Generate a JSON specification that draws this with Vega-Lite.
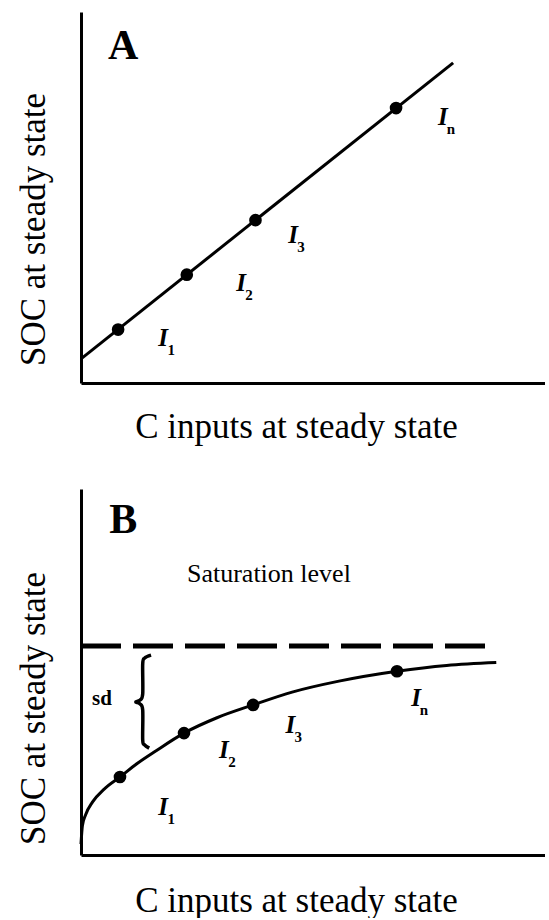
{
  "$schema": "https://vega.github.io/schema/vega-lite/v6.json",
  "background": "white",
  "padding": {"left": 15, "top": 12, "right": 0, "bottom": 0},
  "spacing": 106,
  "bounds": "flush",
  "config": {
    "view": {"stroke": null},
    "axis": {"domainColor": "black", "domainWidth": 3, "ticks": false, "labels": false, "grid": false,
      "titleFont": "Liberation Serif", "titleFontSize": 35, "titleFontWeight": "normal", "titleColor": "black"}
  },
  "datasets": {
    "lineA": [{"x": 0, "y": 6.5}, {"x": 80.2, "y": 86.3}],
    "dotsA": [{"x": 8.0, "y": 14.4}, {"x": 22.8, "y": 29.2}, {"x": 37.6, "y": 43.9}, {"x": 67.9, "y": 74.1}],
    "labelsA": [{"x": 17.7, "y": 12.1, "sub": "1"}, {"x": 34.5, "y": 27.0, "sub": "2"}, {"x": 45.7, "y": 39.9, "sub": "3"}, {"x": 78.0, "y": 71.7, "sub": "n"}],
    "tagA": [{"x": 9.1, "y": 87.3, "t": "A"}],
    "curveB": [
      {"x": 0, "y": 3}, {"x": 0.3, "y": 8}, {"x": 1, "y": 11}, {"x": 2.5, "y": 14.5}, {"x": 5, "y": 18},
      {"x": 8.4, "y": 21.3}, {"x": 12.1, "y": 25}, {"x": 16.2, "y": 28.5}, {"x": 22.2, "y": 33.3}, {"x": 29.3, "y": 37.5},
      {"x": 37.1, "y": 41}, {"x": 45.5, "y": 44.5}, {"x": 55.6, "y": 47.5}, {"x": 68.1, "y": 50.2}, {"x": 78.8, "y": 51.8}, {"x": 89.5, "y": 52.6}
    ],
    "dotsB": [{"x": 8.4, "y": 21.3}, {"x": 22.2, "y": 33.3}, {"x": 37.1, "y": 41}, {"x": 68.1, "y": 50.2}],
    "satB": [{"x": 0, "y": 57.1}, {"x": 88.7, "y": 57.1}],
    "braceB": [
      {"i": 1, "x": 15.1, "y": 54.6}, {"i": 2, "x": 13.7, "y": 53.8}, {"i": 3, "x": 13.3, "y": 52.2}, {"i": 4, "x": 13.3, "y": 44.0},
      {"i": 5, "x": 12.7, "y": 42.3}, {"i": 6, "x": 11.8, "y": 41.8}, {"i": 7, "x": 12.7, "y": 41.3}, {"i": 8, "x": 13.3, "y": 39.6},
      {"i": 9, "x": 13.3, "y": 31.4}, {"i": 10, "x": 13.7, "y": 30.1}, {"i": 11, "x": 14.7, "y": 29.2}
    ],
    "labelsB": [{"x": 17.7, "y": 13.1, "sub": "1"}, {"x": 30.8, "y": 28.7, "sub": "2"}, {"x": 45.1, "y": 35.5, "sub": "3"}, {"x": 72.2, "y": 42.9, "sub": "n"}],
    "tagB": [{"x": 9.1, "y": 88.0, "t": "B"}],
    "satText": [{"x": 40.5, "y": 74.6, "t": "Saturation level"}],
    "sdText": [{"x": 4.5, "y": 42.6, "t": "sd"}]
  },
  "vconcat": [
    {
      "width": 464,
      "height": 371,
      "encoding": {
        "x": {"field": "x", "type": "quantitative", "scale": {"domain": [0, 100], "nice": false, "zero": false},
          "axis": {"title": "C inputs at steady state", "titleX": 215, "titleY": 54, "titleBaseline": "alphabetic", "titleAlign": "center"}},
        "y": {"field": "y", "type": "quantitative", "scale": {"domain": [0, 100], "nice": false, "zero": false},
          "axis": {"title": "SOC at steady state", "titleX": -37, "titleY": 217, "titleBaseline": "alphabetic", "titleAlign": "center", "titleAngle": 270}}
      },
      "layer": [
        {"data": {"name": "lineA"}, "mark": {"type": "line", "color": "black", "strokeWidth": 3}},
        {"data": {"name": "dotsA"}, "mark": {"type": "circle", "color": "black", "opacity": 1, "size": 160}},
        {"data": {"name": "labelsA"}, "mark": {"type": "text", "text": "I", "font": "Liberation Serif", "fontSize": 25, "fontStyle": "italic", "fontWeight": "bold", "color": "black", "baseline": "middle"}},
        {"data": {"name": "labelsA"}, "mark": {"type": "text", "font": "Liberation Serif", "fontSize": 15, "fontWeight": "bold", "color": "black", "dx": 8, "dy": 12, "baseline": "middle"}, "encoding": {"text": {"field": "sub"}}},
        {"data": {"name": "tagA"}, "mark": {"type": "text", "font": "Liberation Serif", "fontSize": 42, "fontWeight": "bold", "color": "black", "baseline": "alphabetic"}, "encoding": {"text": {"field": "t"}}}
      ]
    },
    {
      "width": 464,
      "height": 366,
      "encoding": {
        "x": {"field": "x", "type": "quantitative", "scale": {"domain": [0, 100], "nice": false, "zero": false},
          "axis": {"title": "C inputs at steady state", "titleX": 215, "titleY": 56, "titleBaseline": "alphabetic", "titleAlign": "center"}},
        "y": {"field": "y", "type": "quantitative", "scale": {"domain": [0, 100], "nice": false, "zero": false},
          "axis": {"title": "SOC at steady state", "titleX": -37, "titleY": 219, "titleBaseline": "alphabetic", "titleAlign": "center", "titleAngle": 270}}
      },
      "layer": [
        {"data": {"name": "satB"}, "mark": {"type": "line", "color": "black", "strokeWidth": 5, "strokeDash": [40, 12], "strokeCap": "butt"}},
        {"data": {"name": "curveB"}, "mark": {"type": "line", "color": "black", "strokeWidth": 3, "interpolate": "monotone"}},
        {"data": {"name": "braceB"}, "mark": {"type": "line", "color": "black", "strokeWidth": 3.5, "interpolate": "cardinal"}, "encoding": {"order": {"field": "i", "type": "quantitative"}}},
        {"data": {"name": "dotsB"}, "mark": {"type": "circle", "color": "black", "opacity": 1, "size": 160}},
        {"data": {"name": "labelsB"}, "mark": {"type": "text", "text": "I", "font": "Liberation Serif", "fontSize": 25, "fontStyle": "italic", "fontWeight": "bold", "color": "black", "baseline": "middle"}},
        {"data": {"name": "labelsB"}, "mark": {"type": "text", "font": "Liberation Serif", "fontSize": 15, "fontWeight": "bold", "color": "black", "dx": 8, "dy": 12, "baseline": "middle"}, "encoding": {"text": {"field": "sub"}}},
        {"data": {"name": "tagB"}, "mark": {"type": "text", "font": "Liberation Serif", "fontSize": 42, "fontWeight": "bold", "color": "black", "baseline": "alphabetic"}, "encoding": {"text": {"field": "t"}}},
        {"data": {"name": "satText"}, "mark": {"type": "text", "font": "Liberation Serif", "fontSize": 26, "fontWeight": "normal", "color": "black", "baseline": "alphabetic"}, "encoding": {"text": {"field": "t"}}},
        {"data": {"name": "sdText"}, "mark": {"type": "text", "font": "Liberation Serif", "fontSize": 21, "fontWeight": "bold", "color": "black", "baseline": "middle"}, "encoding": {"text": {"field": "t"}}}
      ]
    }
  ]
}
